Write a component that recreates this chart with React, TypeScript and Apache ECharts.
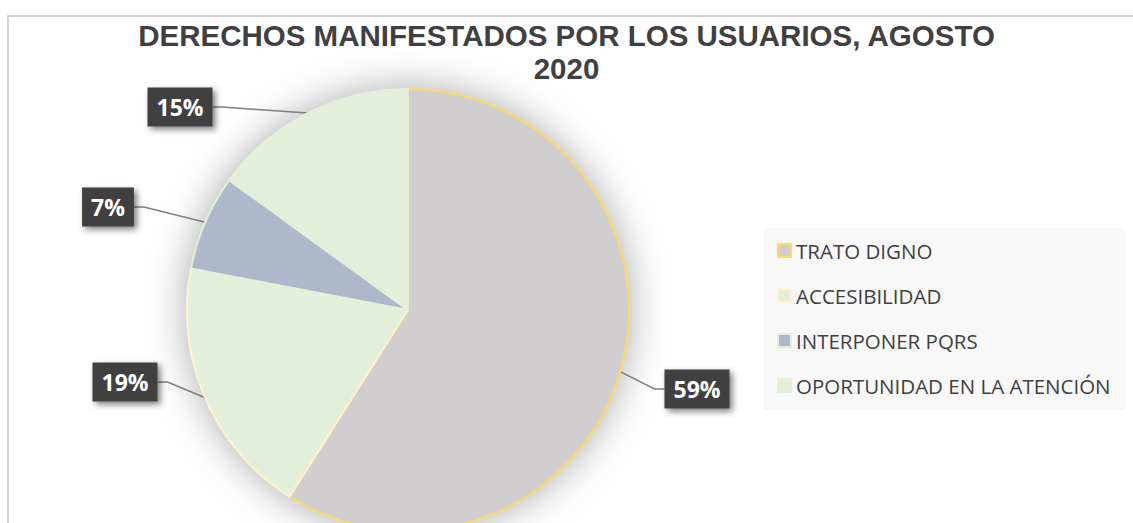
import React, { useEffect, useRef } from 'react';
import * as echarts from 'echarts';

const TITLE_LINES = ['DERECHOS MANIFESTADOS POR LOS USUARIOS, AGOSTO', '2020'];
const categories = ['TRATO DIGNO', 'ACCESIBILIDAD', 'INTERPONER PQRS', 'OPORTUNIDAD EN LA ATENCIÓN'];
const values = [59, 19, 7, 15];
const fillColors = ['#d0cece', '#e2efda', '#adb9ca', '#e2efda'];
const borderColors = ['#ffd966', '#fff2cc', '#e2efda', '#e2efda'];

// label box centres (layout, not data)
const labelCenters = [
  [697, 389],
  [125, 382],
  [108, 207],
  [180, 107],
];

export default function App() {
  const ref = useRef<HTMLDivElement>(null);
  useEffect(() => {
    if (!ref.current) return;
    const chart = echarts.init(ref.current, undefined, { renderer: 'svg' });
    const option: any = {
      animation: false,
      backgroundColor: '#ffffff',
      title: {
        text: TITLE_LINES.join('\n'),
        left: 'center',
        top: 19,
        padding: [0, 0, 0, 8],
        textStyle: {
          fontSize: 29.5,
          fontWeight: 'bold',
          color: '#404040',
          fontFamily: 'Liberation Sans, Arial, sans-serif',
          lineHeight: 33,
        },
      },
      legend: {
        orient: 'vertical',
        left: 764,
        top: 228,
        padding: [12, 14, 14, 13],
        backgroundColor: '#f8f8f8',
        itemWidth: 13,
        itemHeight: 13,
        itemGap: 24,
        icon: 'rect',
        data: categories,
        selectedMode: false,
        textStyle: {
          fontSize: 20.5,
          color: '#404040',
          fontFamily: 'Open Sans',
          lineHeight: 21,
        },
      },
      graphic: [
        {
          type: 'rect',
          silent: true,
          z: -10,
          shape: { x: 8, y: 16, width: 1200, height: 600 },
          style: { fill: 'none', stroke: '#c4c4c4', lineWidth: 1.5 },
        },
      ],
      series: [
        {
          type: 'pie',
          name: 'shadow',
          silent: true,
          z: 1,
          center: [408, 310],
          radius: 221,
          label: { show: false },
          labelLine: { show: false },
          data: [
            {
              name: '_shadow',
              value: 1,
              itemStyle: {
                color: '#d0cece',
                shadowBlur: 40,
                shadowColor: 'rgba(0,0,0,0.35)',
              },
            },
          ],
        },
        {
          type: 'pie',
          name: 'Derechos',
          z: 2,
          center: [408, 310],
          radius: 221,
          startAngle: 90,
          clockwise: true,
          emphasis: { disabled: true },
          data: categories.map((name, i) => ({
            name,
            value: values[i],
            itemStyle: {
              color: fillColors[i],
              borderColor: borderColors[i],
              borderWidth: 2,
            },
          })),
          label: {
            show: true,
            formatter: '{c}%',
            color: '#ffffff',
            fontSize: 23,
            fontWeight: 'bold',
            fontFamily: 'Open Sans',
            backgroundColor: '#404040',
            padding: [9, 9, 7, 9],
            shadowColor: 'rgba(0,0,0,0.5)',
            shadowBlur: 6,
            shadowOffsetX: 3,
            shadowOffsetY: 3,
          },
          labelLine: {
            show: true,
            length: 20,
            length2: 10,
            lineStyle: { color: '#7f7f7f', width: 1.5 },
          },
          labelLayout: (params: any) => {
            const p = labelCenters[params.dataIndex];
            return { x: p[0], y: p[1], align: 'center', verticalAlign: 'middle' };
          },
        },
      ],
    };
    chart.setOption(option);
    return () => chart.dispose();
  }, []);
  return (
    <div
      ref={ref}
      style={{ position: 'fixed', left: 0, top: 0, width: 1133, height: 523 }}
    />
  );
}
